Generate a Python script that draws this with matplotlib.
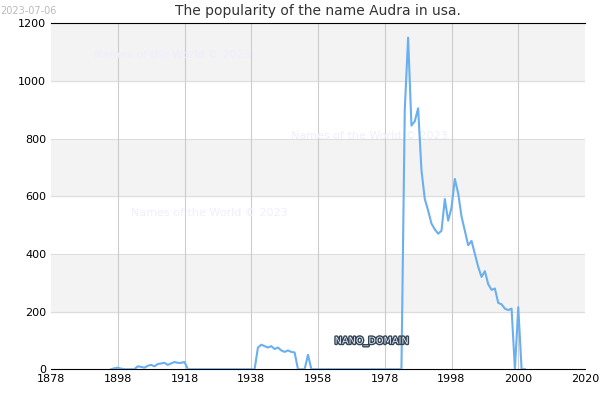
import matplotlib.pyplot as plt
import matplotlib.patheffects as pe

# x positions are on the chart's own evenly spaced scale (ticks every 20)
years = list(range(1898, 2023))
vals = {1899: 3, 1900: 5, 1901: 2, 1906: 10, 1907: 8, 1908: 5, 1909: 12, 1910: 15,
        1911: 10, 1912: 18, 1913: 20, 1914: 22, 1915: 15, 1916: 20, 1917: 25,
        1918: 22, 1919: 22, 1920: 25,
        1942: 75, 1943: 85, 1944: 80, 1945: 75, 1946: 80, 1947: 70, 1948: 75,
        1949: 65, 1950: 60, 1951: 65, 1952: 60, 1953: 58, 1954: 0, 1956: 0, 1957: 50,
        1986: 900, 1987: 1150, 1988: 845, 1989: 860, 1990: 905, 1991: 690, 1992: 590,
        1993: 550, 1994: 505, 1995: 485, 1996: 470, 1997: 480, 1998: 590, 1999: 515,
        2000: 560, 2001: 660, 2002: 610, 2003: 530, 2004: 480, 2005: 430, 2006: 445,
        2007: 400, 2008: 355, 2009: 320, 2010: 340, 2011: 295, 2012: 275, 2013: 280,
        2014: 230, 2015: 225, 2016: 210, 2017: 205, 2018: 210, 2019: 0, 2020: 215}
counts = [vals.get(y, 0) for y in years]

tick_pos = [1880, 1900, 1920, 1940, 1960, 1980, 2000, 2020, 2040]
tick_labels = ['1878', '1898', '1918', '1938', '1958', '1978', '1998', '2000', '2020']

fig = plt.figure(figsize=(6, 4), dpi=100)
ax = fig.add_axes([0.085, 0.077, 0.89, 0.865])

for lo in range(0, 1200, 200):
    col = '#f3f3f3' if (lo // 200) % 2 == 1 else 'white'
    ax.axhspan(lo, lo + 200, color=col, zorder=0)
for y in range(200, 1200, 200):
    ax.axhline(y, color='#dddddd', lw=0.8, zorder=1)
for x in tick_pos[1:-1]:
    ax.axvline(x, color='#cccccc', lw=0.8, zorder=1)

ax.plot(years, counts, color='#6aaff0', lw=1.5, zorder=3)

ax.set_xlim(1880, 2040)
ax.set_ylim(0, 1200)
ax.set_xticks(tick_pos)
ax.set_xticklabels(tick_labels, fontsize=8)
ax.set_yticks(range(0, 1201, 200))
ax.tick_params(labelsize=8, length=0)
for s in ['top', 'right', 'bottom', 'left']:
    ax.spines[s].set_visible(s in ('top', 'bottom'))
ax.set_title('The popularity of the name Audra in usa.', fontsize=10, color='#333333')

wm = dict(color='#eeeeff', fontsize=8, zorder=2)
ax.text(1893, 1080, 'Names of the World © 2023', **wm)
ax.text(1952, 800, 'Names of the World © 2023', **wm)
ax.text(1904, 530, 'Names of the World © 2023', **wm)
ax.text(1965, 88, 'NANO_DOMAIN', fontsize=7, color='#dde6f0', zorder=4,
        path_effects=[pe.withStroke(linewidth=2, foreground='#334455')])
fig.text(0.0, 0.985, '2023-07-06', fontsize=7, color='#bbbbbb', va='top')

fig.savefig('out.png')
